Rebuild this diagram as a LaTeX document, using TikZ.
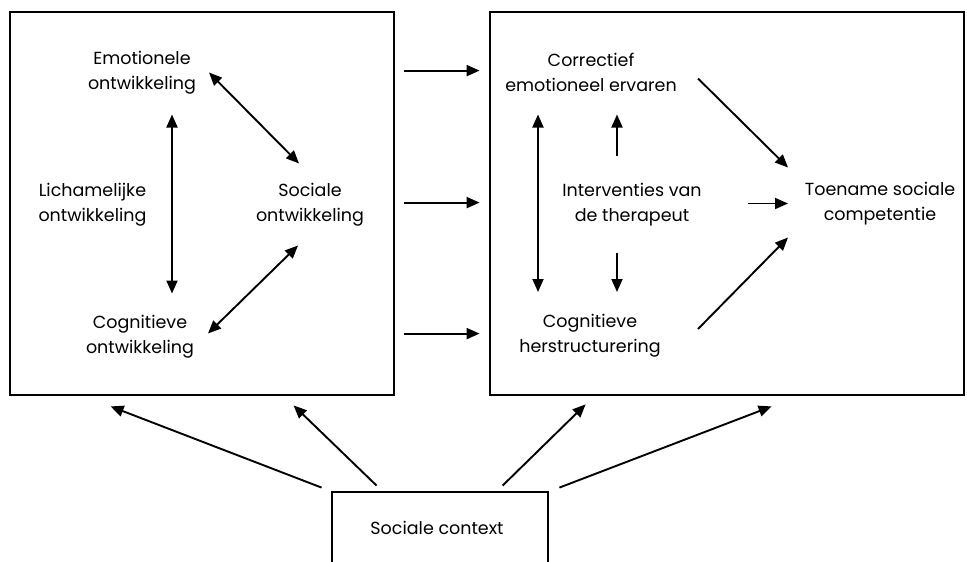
\documentclass[tikz,border=0pt]{standalone}
\usepackage{fontspec}
\setmainfont{Poppins}
\usetikzlibrary{arrows.meta,calc}
\begin{document}
\begin{tikzpicture}[x=1pt,y=-1pt,
  frame/.style={draw, line width=2.8pt, inner sep=0pt},
  txt/.style={align=center, inner sep=0pt, font=\fontsize{17.5}{25}\selectfont},
  link/.style={line width=1.9pt, -{Triangle[length=13pt,width=11pt]}},
  twoway/.style={line width=1.9pt, {Triangle[length=13pt,width=11pt]}-{Triangle[length=13pt,width=11pt]}}]
\useasboundingbox (0,0) rectangle (967,562);
\clip (0,0) rectangle (967,562);

% the three frames
\node[frame, minimum width=384pt, minimum height=383pt] (dev) at (202,203.5) {};
\node[frame, minimum width=474pt, minimum height=383pt] (ther) at (727,203.5) {};
\node[frame, minimum width=216pt, minimum height=128pt] (ctxbox) at (440,556) {};

% development domains
\node[txt] (emo) at (142,72.5) {Emotionele\\ontwikkeling};
\node[txt] (lich) at (92.5,204.5) {Lichamelijke\\ontwikkeling};
\node[txt] (soc) at (310,204.5) {Sociale\\ontwikkeling};
\node[txt] (cog) at (140,336.5) {Cognitieve\\ontwikkeling};

% therapy process
\node[txt] (corr) at (591,72.5) {Correctief\\emotioneel ervaren};
\node[txt] (interv) at (632,204.5) {Interventies van\\de therapeut};
\node[txt] (cogh) at (590,336) {Cognitieve\\herstructurering};
\node[txt] (toen) at (880,203.5) {Toename sociale\\competentie};

% context
\node[txt] (ctx) at (437,528) {Sociale context};

% links between the domains
\draw[twoway] ($(emo)+(67,0)$) -- ($(soc)+(-11,-41)$);
\draw[twoway] ($(emo)+(30,42)$) -- ($(cog)+(32,-43)$);
\draw[twoway] ($(cog)+(68,-3)$) -- ($(soc)+(-12,41)$);

% from the development frame to the therapy frame
\foreach \dy in {60,192,323}
  \draw[link] ($(dev.north east)+(9,\dy)$) -- ($(ther.north west)+(-9,\dy)$);

% therapy process links
\draw[twoway] ($(corr)+(-53,42)$) -- ($(cogh)+(-52,-44)$);
\draw[link] ($(interv)+(-15,-49)$) -- ($(corr)+(26,42)$);
\draw[link] ($(interv)+(-15,48)$) -- ($(cogh)+(27,-44)$);
\draw[link] ($(corr)+(107,6)$) -- ($(toen)+(-92,-36)$);
\draw[link] ($(interv)+(116,-1)$) -- ($(toen)+(-92,0)$);
\draw[link] ($(cogh)+(108,-7)$) -- ($(toen)+(-92,34)$);

% influence of the social context
\draw[link] ($(ctxbox.north west)+(-9,-3)$) -- ($(dev.south west)+(102,10)$);
\draw[link] ($(ctxbox.north west)+(46,-5)$) -- ($(dev.south west)+(285,9)$);
\draw[link] ($(ctxbox.north west)+(172,-5)$) -- ($(ther.south west)+(97,8)$);
\draw[link] ($(ctxbox.north east)+(10,-3)$) -- ($(ther.south west)+(283,10)$);
\end{tikzpicture}
\end{document}
